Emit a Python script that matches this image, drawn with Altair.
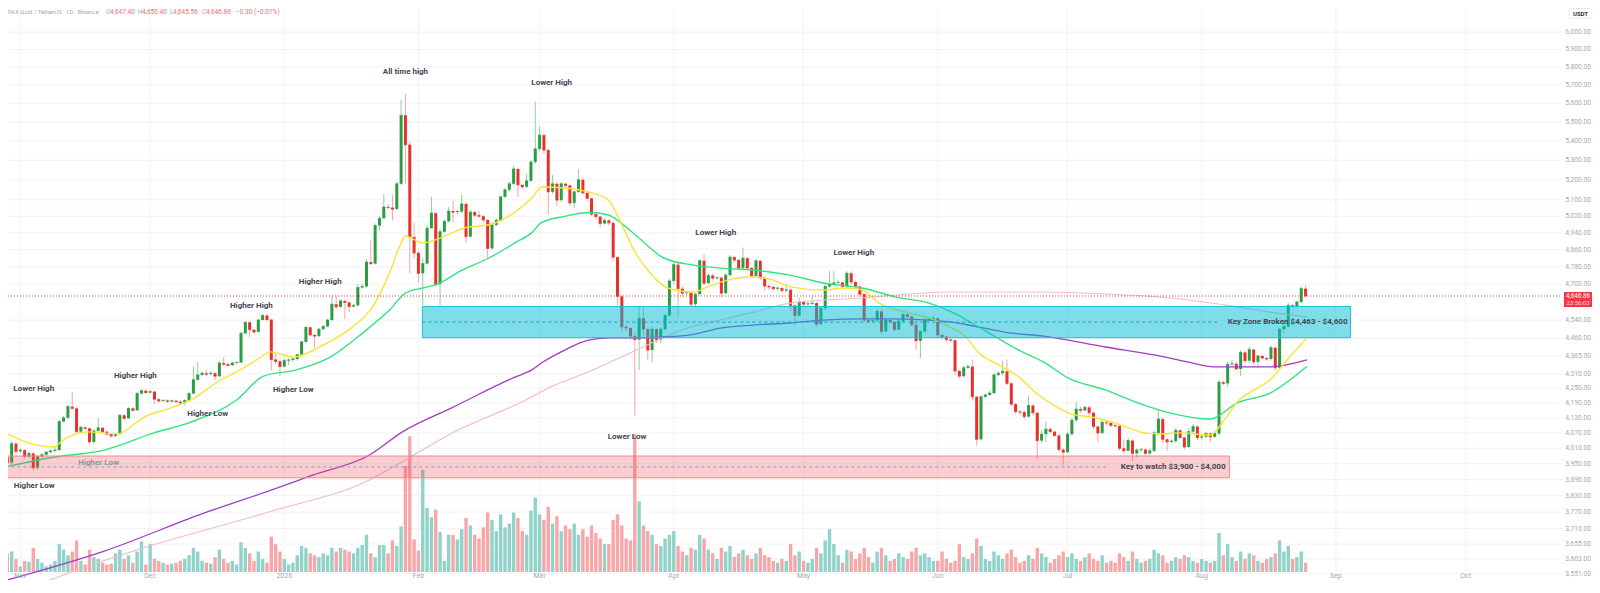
import math
import pandas as pd
import altair as alt

# ------------------------------------------------------------------
# PAXG / USDT daily candles.
# day = days since 2026-01-01 ; first candle = 2025-10-29 (day -64)
# ------------------------------------------------------------------
FIRST_DAY = -64
FIRST_OPEN = 3975

close_a = [3955, 4028, 3998, 4003, 3978, 3990, 3935, 3978, 3985, 3995,
           4000, 4003, 4115, 4130, 4175, 4168, 4075, 4092, 4088, 4035,
           4078, 4090, 4075, 4065, 4058, 4065, 4140, 4128, 4168, 4160,
           4228, 4240, 4232, 4236, 4205, 4198, 4200, 4196, 4199, 4195,
           4190, 4200, 4228, 4285, 4305, 4312, 4308, 4312, 4300, 4355,
           4350, 4345, 4355, 4357, 4482, 4530, 4498, 4488, 4540, 4560,
           4542, 4370]
high_a = [3995, 4040, 4035, 4010, 4005, 3998, 3995, 3985, 3992, 4000,
          4006, 4015, 4122, 4138, 4182, 4235, 4176, 4100, 4098, 4092,
          4085, 4130, 4095, 4078, 4068, 4070, 4145, 4145, 4172, 4172,
          4235, 4245, 4245, 4242, 4238, 4210, 4206, 4204, 4204, 4203,
          4200, 4205, 4235, 4340, 4360, 4320, 4325, 4320, 4318, 4362,
          4380, 4355, 4360, 4362, 4490, 4535, 4535, 4500, 4545, 4566,
          4568, 4545]
low_a = [3940, 3945, 3990, 3992, 3970, 3972, 3925, 3925, 3972, 3980,
         3990, 3993, 4000, 4112, 4125, 4160, 4068, 4070, 4080, 4025,
         4025, 4070, 4068, 4060, 4052, 4055, 4062, 4118, 4125, 4155,
         4158, 4225, 4228, 4228, 4185, 4190, 4193, 4190, 4192, 4190,
         4185, 4180, 4195, 4225, 4280, 4300, 4300, 4305, 4285, 4295,
         4342, 4340, 4345, 4350, 4355, 4478, 4465, 4478, 4485, 4538,
         4535, 4325]

close_b = [4362, 4340, 4365, 4368, 4372, 4390, 4445, 4508, 4475, 4470,
           4500, 4512, 4540, 4610, 4598, 4625, 4618, 4600, 4605, 4685,
           4690, 4802, 4795, 4975, 5010, 5065, 5062, 5055, 5180, 5535,
           5380, 4920, 4845, 4750, 4795, 4962, 5035, 4700, 4945, 4995,
           5045, 5040, 5043, 5080, 4922, 5040, 5025, 5020, 5002, 4866,
           4978, 5000, 5115, 5150, 5180, 5255, 5175, 5165, 5195, 5290]
high_b = [4395, 4368, 4372, 4375, 4378, 4395, 4450, 4512, 4512, 4480,
          4505, 4518, 4545, 4650, 4650, 4632, 4630, 4622, 4610, 4700,
          4702, 4815, 4905, 4985, 5020, 5130, 5080, 5125, 5190, 5620,
          5650, 5395, 4990, 4855, 4820, 4975, 5115, 5040, 4960, 5005,
          5065, 5095, 5050, 5125, 5090, 5050, 5045, 5045, 5025, 5005,
          4990, 5010, 5120, 5160, 5190, 5270, 5260, 5175, 5230, 5300]
low_b = [4350, 4300, 4335, 4345, 4360, 4365, 4385, 4440, 4468, 4420,
         4465, 4498, 4508, 4535, 4590, 4595, 4545, 4575, 4595, 4600,
         4680, 4685, 4788, 4790, 4950, 5005, 5055, 5000, 5050, 5175,
         5180, 4750, 4820, 4710, 4605, 4790, 4960, 4690, 4605, 4940,
         4990, 4990, 5030, 5035, 4890, 4915, 5015, 5012, 4990, 4820,
         4860, 4970, 4995, 5110, 5140, 5175, 5115, 5155, 5160, 5190]

close_c = [5358, 5430, 5352, 5140, 5180, 5099, 5180, 5172, 5085, 5140,
           5200, 5135, 5108, 5030, 5018, 4985, 5000, 4988, 4825, 4645,
           4510, 4505, 4470, 4455, 4548, 4500, 4410, 4500, 4455, 4500,
           4560, 4715, 4790, 4680, 4660, 4662, 4610, 4655, 4808, 4705,
           4740, 4728, 4730, 4660, 4742, 4825, 4812, 4775, 4820, 4775,
           4738, 4808, 4730, 4692, 4688, 4680, 4683, 4672, 4675, 4605]
high_c = [5610, 5475, 5440, 5360, 5225, 5190, 5190, 5185, 5175, 5145,
          5255, 5210, 5140, 5110, 5035, 5020, 5010, 5005, 4995, 4830,
          4650, 4520, 4510, 4485, 4600, 4600, 4505, 4510, 4505, 4510,
          4565, 4725, 4800, 4800, 4690, 4672, 4665, 4660, 4815, 4840,
          4750, 4750, 4735, 4735, 4750, 4835, 4830, 4815, 4870, 4825,
          4780, 4815, 4810, 4735, 4700, 4692, 4690, 4688, 4700, 4680]
low_c = [5280, 5350, 5330, 5030, 5130, 5070, 5090, 5160, 5070, 5060,
         5135, 5125, 5095, 5020, 5005, 4965, 4980, 4975, 4805, 4605,
         4490, 4490, 4455, 4140, 4325, 4470, 4370, 4360, 4440, 4440,
         4495, 4555, 4700, 4550, 4645, 4650, 4600, 4600, 4650, 4695,
         4700, 4720, 4720, 4640, 4655, 4735, 4800, 4765, 4770, 4765,
         4730, 4730, 4720, 4670, 4675, 4670, 4670, 4660, 4665, 4580]

close_d = [4560, 4620, 4610, 4612, 4615, 4522, 4592, 4690, 4700, 4706,
           4708, 4690, 4750, 4710, 4690, 4655, 4540, 4535, 4538, 4578,
           4490, 4540, 4532, 4498, 4535, 4565, 4555, 4520, 4450, 4490,
           4540, 4545, 4548, 4475, 4468, 4455, 4452, 4322, 4300, 4335,
           4340, 4215, 4045, 4215, 4222, 4230, 4305, 4312, 4320, 4270,
           4185, 4155, 4153, 4135, 4180, 4150, 4040, 4065, 4085, 4075]
high_d = [4610, 4640, 4625, 4620, 4650, 4620, 4600, 4700, 4760, 4760,
          4720, 4710, 4760, 4760, 4715, 4695, 4660, 4545, 4548, 4590,
          4585, 4550, 4545, 4535, 4540, 4570, 4570, 4560, 4525, 4495,
          4560, 4555, 4560, 4550, 4480, 4470, 4460, 4455, 4325, 4345,
          4350, 4370, 4220, 4220, 4230, 4240, 4315, 4320, 4365, 4370,
          4275, 4190, 4160, 4160, 4220, 4185, 4155, 4080, 4115, 4092]
low_d = [4515, 4555, 4600, 4600, 4605, 4510, 4515, 4585, 4685, 4695,
         4700, 4680, 4685, 4700, 4680, 4645, 4530, 4525, 4528, 4530,
         4480, 4485, 4525, 4490, 4495, 4530, 4548, 4512, 4410, 4375,
         4485, 4535, 4538, 4465, 4455, 4445, 4445, 4305, 4290, 4295,
         4330, 4200, 4020, 4040, 4210, 4220, 4225, 4300, 4305, 4260,
         4175, 4145, 4140, 4125, 4130, 4140, 3970, 4030, 4035, 4070]

close_e = [4060, 4005, 3995, 4065, 4120, 4165, 4160, 4172, 4150, 4095,
           4070, 4112, 4110, 4100, 4098, 4010, 4000, 4040, 3990, 4003,
           4005, 3990, 4000, 4070, 4125, 4045, 4035, 4038, 4080, 4052,
           4015, 4075, 4095, 4052, 4055, 4068, 4055, 4068, 4275, 4270,
           4350, 4352, 4330, 4400, 4365, 4412, 4360, 4385, 4376, 4372,
           4420, 4335, 4500, 4512, 4605, 4600, 4620, 4680, 4647]
high_e = [4080, 4065, 4010, 4075, 4130, 4195, 4175, 4180, 4178, 4155,
          4100, 4120, 4118, 4112, 4105, 4100, 4045, 4050, 4045, 4010,
          4012, 4010, 4008, 4078, 4160, 4130, 4050, 4045, 4090, 4085,
          4055, 4090, 4105, 4100, 4060, 4075, 4072, 4075, 4285, 4282,
          4360, 4370, 4358, 4410, 4410, 4425, 4415, 4390, 4390, 4380,
          4430, 4425, 4505, 4540, 4615, 4610, 4625, 4690, 4692]
low_e = [4055, 3995, 3945, 3990, 4060, 4115, 4150, 4155, 4140, 4085,
         4035, 4065, 4100, 4092, 4090, 4000, 3990, 3998, 3960, 3975,
         3995, 3980, 3985, 3995, 4065, 4030, 4000, 4030, 4030, 4045,
         4005, 4012, 4070, 4040, 4040, 4050, 4035, 4050, 4060, 4262,
         4255, 4340, 4325, 4300, 4355, 4355, 4350, 4335, 4370, 4365,
         4365, 4325, 4330, 4480, 4505, 4590, 4595, 4615, 4640]

# volume (relative units)
vol_a = [20, 22, 14, 6, 12, 11, 26, 14, 10, 6,
         8, 12, 30, 24, 18, 22, 34, 12, 8, 24,
         16, 14, 10, 8, 9, 20, 24, 14, 18, 10,
         22, 33, 8, 30, 14, 12, 10, 8, 9, 10,
         12, 14, 18, 26, 22, 12, 10, 9, 16, 24,
         14, 10, 12, 8, 32, 26, 20, 12, 22, 14,
         10, 38]
vol_b = [30, 22, 14, 8, 10, 18, 28, 26, 20, 18,
         16, 20, 18, 26, 22, 26, 24, 22, 20, 26,
         29, 40, 20, 16, 29, 29, 20, 34, 28, 49,
         114, 146, 35, 23, 110, 69, 59, 67, 43, 12,
         40, 40, 35, 46, 58, 50, 40, 36, 48, 64,
         56, 44, 62, 48, 52, 64, 58, 44, 40, 66]
vol_c = [80, 62, 56, 70, 52, 60, 44, 50, 46, 52,
         40, 46, 38, 50, 42, 36, 30, 30, 56, 62,
         50, 36, 34, 148, 76, 50, 44, 40, 30, 28,
         36, 40, 44, 28, 22, 18, 26, 24, 40, 36,
         24, 20, 14, 26, 22, 28, 16, 20, 24, 18,
         14, 20, 26, 18, 16, 12, 10, 14, 12, 30]
vol_d = [18, 22, 12, 10, 14, 26, 20, 34, 46, 30,
         18, 10, 24, 22, 14, 20, 26, 16, 10, 22,
         26, 18, 12, 14, 20, 16, 14, 22, 26, 18,
         20, 16, 12, 12, 22, 14, 10, 12, 30, 16,
         14, 20, 36, 28, 14, 12, 22, 18, 14, 20,
         24, 16, 10, 12, 18, 14, 26, 20, 16, 10]
vol_e = [14, 18, 22, 16, 20, 14, 12, 16, 20, 14,
         12, 18, 10, 12, 10, 20, 16, 12, 22, 14,
         10, 12, 14, 24, 20, 18, 10, 12, 16, 14,
         18, 16, 12, 10, 14, 12, 10, 12, 42, 18,
         30, 16, 12, 22, 14, 20, 18, 12, 10, 14,
         16, 20, 34, 22, 28, 14, 16, 22, 10]

# moving averages: (day, price)
ma_yellow = [(-64.5, 4070), (-57.6, 4023), (-53.0, 4015), (-51.9, 4031), (-45.5, 4074), (-38.6, 4066),
             (-32.4, 4133), (-26.2, 4170), (-21.6, 4202), (-14.7, 4284), (-11.0, 4318), (-6.4, 4368),
             (-3.2, 4402), (2.1, 4380), (9.0, 4432), (15.8, 4510), (20.4, 4598), (24.3, 4751),
             (26.6, 4873), (28.0, 4925), (31.9, 4892), (34.9, 4906), (38.1, 4934), (42.7, 4968),
             (45.7, 4973), (48.7, 4987), (53.3, 5040), (57.2, 5109), (59.5, 5164), (64.8, 5159),
             (70.3, 5139), (74.9, 5099), (77.8, 4988), (80.8, 4858), (84.0, 4765), (88.6, 4683),
             (94.6, 4665), (97.8, 4688), (102.4, 4719), (107.7, 4733), (113.0, 4719), (116.9, 4688),
             (124.5, 4674), (130.0, 4683), (133.6, 4674), (137.5, 4615), (143.7, 4575), (149.0, 4549),
             (154.3, 4505), (157.5, 4466), (160.5, 4397), (165.1, 4347), (169.7, 4297), (174.3, 4222),
             (178.9, 4170), (181.9, 4145), (186.5, 4133), (192.0, 4109), (198.9, 4070), (201.8, 4066),
             (207.1, 4070), (214.0, 4062), (217.2, 4121), (220.2, 4194), (224.1, 4243), (227.8, 4284),
             (231.7, 4368), (236.3, 4462)]
ma_green = [(-64.5, 3938), (-53.0, 3976), (-41.6, 4003), (-30.1, 4070), (-21.6, 4113), (-11.0, 4202),
            (-4.8, 4300), (2.8, 4326), (10.6, 4380), (18.1, 4483), (24.3, 4584), (28.0, 4660),
            (31.9, 4683), (34.9, 4697), (41.1, 4765), (47.3, 4821), (53.3, 4892), (57.2, 4941),
            (59.5, 4990), (64.8, 5019), (70.3, 5038), (74.9, 5026), (77.8, 4988), (81.7, 4920),
            (87.7, 4821), (94.6, 4788), (100.8, 4774), (108.4, 4765), (116.9, 4742), (124.5, 4706),
            (133.6, 4683), (141.4, 4642), (149.0, 4615), (154.3, 4575), (158.9, 4527), (164.4, 4466),
            (169.7, 4410), (175.4, 4360), (181.2, 4292), (189.7, 4243), (197.2, 4190), (204.8, 4149),
            (214.0, 4125), (220.2, 4190), (227.8, 4230), (236.3, 4340)]
ma_purple = [(-64.5, 3528), (-41.6, 3630), (-18.6, 3766), (-3.2, 3850), (6.7, 3908), (19.7, 3984),
             (27.3, 4074), (38.8, 4171), (53.3, 4296), (57.2, 4326), (59.5, 4356), (64.8, 4410),
             (70.3, 4453), (75.5, 4462), (80.1, 4462), (87.7, 4466), (93.9, 4475), (100.8, 4505),
             (108.4, 4518), (116.9, 4527), (124.5, 4540), (133.6, 4545), (139.8, 4545), (149.0, 4540),
             (154.3, 4531), (160.5, 4509), (168.1, 4483), (175.4, 4470), (189.7, 4423), (201.1, 4389),
             (208.7, 4360), (214.9, 4339), (227.8, 4339), (236.3, 4368)]
ma_pink = [(-54.7, 3527), (-49.1, 3558), (-31.7, 3645), (-3.2, 3772), (19.7, 3889), (27.3, 3958),
           (38.8, 4070), (54.9, 4194), (62.5, 4263), (70.3, 4318), (77.8, 4380), (85.4, 4445),
           (93.2, 4505), (100.8, 4540), (108.4, 4575), (116.9, 4615), (133.6, 4638), (153.6, 4665),
           (174.3, 4665), (189.7, 4656), (204.8, 4638), (217.2, 4607), (227.8, 4575), (236.3, 4553)]

# zones (day range, price range)
blue_zone = {"x1": 31.9, "x2": 246.4, "p1": 4463, "p2": 4600, "mid": 4531, "dash_end": 216.0}
red_zone = {"x1": -70.0, "x2": 218.4, "p1": 3897, "p2": 3980, "mid": 3938, "dash_end": 190.8}
last_price = 4646.86

# annotations: (text, day, price)
ann_center = [("All time high", 28.0, 5772), ("Lower High", 61.8, 5711), ("Lower High", 99.7, 4939),
              ("Lower High", 131.6, 4846), ("Higher High", 8.3, 4710), ("Higher High", -7.6, 4602),
              ("Higher High", -34.4, 4301), ("Higher Low", 2.1, 4243), ("Higher Low", -17.7, 4145),
              ("Lower Low", 79.2, 4054)]
ann_faded = [("Higher Low", -42.9, 3954)]
ann_left = [("Lower High", -62.6, 4247), ("Higher Low", -62.5, 3866)]
ann_right = [("Key Zone Broken $4,463 - $4,600", 245.7, 4531),
             ("Key to watch $3,900 - $4,000", 217.5, 3938)]

month_days = [-61, -31, 0, 31, 59, 90, 120, 151, 181, 212, 243, 273]
month_labels = ["Nov", "Dec", "2026", "Feb", "Mar", "Apr", "May", "Jun", "Jul", "Aug", "Sep", "Oct"]
price_ticks = [6000, 5900, 5800, 5700, 5600, 5500, 5400, 5300, 5200, 5100, 5020, 4940, 4860,
               4780, 4700, 4540, 4460, 4385, 4310, 4250, 4190, 4130, 4070, 4010, 3950, 3890,
               3830, 3770, 3710, 3655, 3603, 3551]

header_tokens = [("PAX Gold / TetherUS \u00b7 1D \u00b7 Binance", "g"), ("O", "g"), ("4,647.40", "r"),
                 ("H", "g"), ("4,650.40", "r"), ("L", "g"), ("4,645.56", "r"), ("C", "g"),
                 ("4,646.86", "r"), ("\u22120.30 (\u22120.01%)", "r")]
header_x = [0, 98, 102, 130, 134, 162, 165, 194, 198, 228]

# ------------------------------------------------------------------
# Build tables
# ------------------------------------------------------------------
close = close_a + close_b + close_c + close_d + close_e
high = high_a + high_b + high_c + high_d + high_e
low = low_a + low_b + low_c + low_d + low_e
volume = vol_a + vol_b + vol_c + vol_d + vol_e
assert len(close) == len(high) == len(low) == len(volume), (len(close), len(high), len(low), len(volume))
opn = [FIRST_OPEN] + close[:-1]
n = len(close)
candles = pd.DataFrame({
    "day": list(range(FIRST_DAY, FIRST_DAY + n)),
    "open": opn, "close": close,
    "high": [max(h, o, c) for h, o, c in zip(high, opn, close)],
    "low": [min(l, o, c) for l, o, c in zip(low, opn, close)],
    "volume": volume, "zero": [0] * n,
})

# ------------------------------------------------------------------
# Geometry / scales
# ------------------------------------------------------------------
W, H = 1584, 572
PLOT_R = 1554
VOL_BASE = 564
X_ORIGIN, X_STEP = 273.0, 4.355
XS = alt.Scale(domain=[-X_ORIGIN / X_STEP, (W - X_ORIGIN) / X_STEP], nice=False, zero=False)
YS = alt.Scale(type="log", domain=[6000 * math.exp(-(H - 24) / 1033), 6000 * math.exp(24 / 1033)],
               nice=False, zero=False)
k = 0.93
VS = alt.Scale(domain=[-(H - VOL_BASE) / k, VOL_BASE / k], nice=False, zero=False)

FONT = "Roboto"
GRID = "#f1f2f5"
LABEL = "#a6a9b1"
TXT = "#434651"
UP, DN = "#2c9c45", "#e9302a"
UPW, DNW = "#93cd9f", "#f3a6a6"
VUP, VDN = "#90d3c9", "#f7a7a9"


def X(field="day"):
    return alt.X(f"{field}:Q", scale=XS, axis=None)


def Y(field="price"):
    return alt.Y(f"{field}:Q", scale=YS, axis=None)


def cond(a, b):
    return alt.condition("datum.close >= datum.open", alt.value(a), alt.value(b))


layers = []
ticks_df = pd.DataFrame({"price": price_ticks, "label": [f"{v:,.2f}" for v in price_ticks]})
month_df = pd.DataFrame({"day": month_days, "label": month_labels})

layers.append(alt.Chart(ticks_df).mark_rule(color=GRID, strokeWidth=1).encode(
    y=Y(), x=alt.value(0), x2=alt.value(PLOT_R)))
layers.append(alt.Chart(month_df).mark_rule(color=GRID, strokeWidth=1).encode(
    x=X(), y=alt.value(0), y2=alt.value(VOL_BASE)))

# volume
layers.append(alt.Chart(candles).mark_bar(size=3.4, clip=True).encode(
    x=X(), y=alt.Y("volume:Q", scale=VS, axis=None), y2="zero:Q", color=cond(VUP, VDN)))

# candles
cb = alt.Chart(candles)
layers.append(cb.mark_rule(strokeWidth=1, clip=True).encode(
    x=X(), y=Y("low"), y2="high:Q", color=cond(UPW, DNW)))
layers.append(cb.mark_bar(size=3, clip=True).encode(
    x=X(), y=Y("open"), y2="close:Q", color=cond(UP, DN)))
layers.append(cb.mark_tick(orient="horizontal", size=3, thickness=1, clip=True).encode(
    x=X(), y=Y("close"), color=cond(UP, DN)))

# moving averages
for pts, col, sw in [(ma_pink, "#f5b9c6", 1.1), (ma_purple, "#a53bc4", 1.3),
                     (ma_green, "#2fe57f", 1.4), (ma_yellow, "#fbe335", 1.4)]:
    df = pd.DataFrame(pts, columns=["day", "price"])
    layers.append(alt.Chart(df).mark_line(color=col, strokeWidth=sw, clip=True,
                                          interpolate="monotone").encode(x=X(), y=Y()))

# zones
bz = pd.DataFrame([blue_zone])
rz = pd.DataFrame([red_zone])
layers.append(alt.Chart(bz).mark_rect(fill="#00bcd4", fillOpacity=0.5, stroke="#1fbfd6",
                                      strokeWidth=1, clip=True).encode(
    x=X("x1"), x2="x2:Q", y=Y("p1"), y2="p2:Q"))
layers.append(alt.Chart(rz).mark_rect(fill="#f23645", fillOpacity=0.25, stroke="#f4868f",
                                      strokeWidth=1, clip=True).encode(
    x=X("x1"), x2="x2:Q", y=Y("p1"), y2="p2:Q"))
layers.append(alt.Chart(bz).mark_rule(color="#1d9fb3", strokeDash=[3, 3], strokeWidth=1, clip=True).encode(
    x=X("x1"), x2="dash_end:Q", y=Y("mid")))
layers.append(alt.Chart(rz).mark_rule(color="#6aa6d2", strokeDash=[3, 3], strokeWidth=1, clip=True).encode(
    x=X("x1"), x2="dash_end:Q", y=Y("mid")))

# current price line
lp = pd.DataFrame({"price": [last_price], "a": ["4,646.86"], "b": ["23:56:03"]})
layers.append(alt.Chart(lp).mark_rule(color="#f23645", strokeDash=[1, 2], strokeWidth=1).encode(
    y=Y(), x=alt.value(0), x2=alt.value(PLOT_R)))


# annotations
def ann_layer(items, align, color):
    df = pd.DataFrame(items, columns=["label", "day", "price"])
    return alt.Chart(df).mark_text(align=align, baseline="middle", font=FONT, fontSize=8,
                                   fontWeight="bold", color=color).encode(
        x=X(), y=Y(), text="label:N")


layers.append(ann_layer(ann_center, "center", TXT))
layers.append(ann_layer(ann_faded, "center", "#8f929b"))
layers.append(ann_layer(ann_left, "left", TXT))
layers.append(ann_layer(ann_right, "right", TXT))

# right price axis labels
layers.append(alt.Chart(ticks_df).mark_text(align="right", baseline="middle", font=FONT, fontSize=6.7,
                                            color=LABEL).encode(
    y=Y(), x=alt.value(1583), text="label:N"))
# last price tag
layers.append(alt.Chart(lp).mark_tick(orient="horizontal", size=28, thickness=15, yOffset=3.5,
                                      color="#f23645", opacity=1).encode(y=Y(), x=alt.value(1570)))
layers.append(alt.Chart(lp).mark_text(align="center", baseline="middle", font=FONT, fontSize=6.3,
                                      color="white").encode(y=Y(), x=alt.value(1570), text="a:N"))
layers.append(alt.Chart(lp).mark_text(align="center", baseline="middle", font=FONT, fontSize=6.0,
                                      color="#ffd9dc", dy=7).encode(y=Y(), x=alt.value(1570), text="b:N"))

# date labels
layers.append(alt.Chart(month_df).mark_text(align="center", baseline="middle", font=FONT, fontSize=7,
                                            color=LABEL).encode(
    x=X(), y=alt.value(567.5), text="label:N"))

# USDT box + header
one = pd.DataFrame({"a": [0]})
layers.append(alt.Chart(one).mark_rect(fill="white", stroke="#e0e3eb", strokeWidth=0.8,
                                       cornerRadius=2).encode(
    x=alt.value(1561), x2=alt.value(1584), y=alt.value(0.5), y2=alt.value(10)))
layers.append(alt.Chart(one).mark_text(align="center", baseline="middle", font=FONT, fontSize=6,
                                       fontWeight="bold", color="#2a2e39", text="USDT").encode(
    x=alt.value(1572.5), y=alt.value(5.5)))
for i, ((txt, kind), px) in enumerate(zip(header_tokens, header_x)):
    layers.append(alt.Chart(one).mark_text(align="left", baseline="middle", font=FONT,
                                           fontSize=5.9 if i == 0 else 6.5,
                                           color="#a4a7b0" if kind == "g" else "#f46a74",
                                           text=txt).encode(x=alt.value(px), y=alt.value(4)))

chart = alt.layer(*layers).resolve_scale(y="independent").properties(
    width=W, height=H, padding=0, background="#ffffff",
    autosize=alt.AutoSizeParams(type="none"),
).configure_view(stroke=None)

chart.save("out.html", embed_options={"renderer": "svg", "actions": False})
